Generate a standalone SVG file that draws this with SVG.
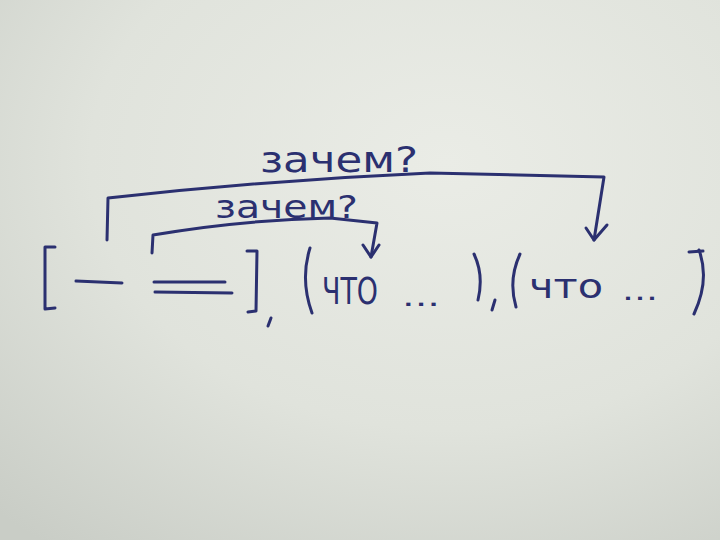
<svg xmlns="http://www.w3.org/2000/svg" width="720" height="540" viewBox="0 0 720 540">
<defs>
<radialGradient id="paper" cx="0.62" cy="0.3" r="0.9">
<stop offset="0" stop-color="#eaece6"/>
<stop offset="0.55" stop-color="#e0e3dc"/>
<stop offset="1" stop-color="#c9cdc6"/>
</radialGradient>
<style>
.ink{fill:none;stroke:#2b3070;stroke-width:3;stroke-linecap:round;stroke-linejoin:round}
.txt{fill:#2b3070;font-family:"DejaVu Sans","Liberation Sans",sans-serif}
</style>
</defs>
<rect width="720" height="540" fill="url(#paper)"/>
<g id="main-clause">
<path class="ink" d="M55,247 L45,247 L45,309 L55,308"/>
<path class="ink" d="M76,281 L122,283"/>
<path class="ink" d="M154,282 L225,282"/>
<path class="ink" d="M155,292 L232,293"/>
<path class="ink" d="M247,251 L257,251 L256,311 L248,312"/>
<path class="ink" d="M271,318 L268,326"/>
</g>
<g id="subclause-1">
<path class="ink" d="M310,248 Q300,280 312,313"/>
<text class="txt" x="322" y="304" font-size="38" textLength="56" lengthAdjust="spacingAndGlyphs">ЧТО</text>
<text class="txt" x="402" y="306" font-size="26" textLength="38" lengthAdjust="spacingAndGlyphs">...</text>
<path class="ink" d="M474,254 Q484,275 478,300"/>
<path class="ink" d="M495,300 L492,310"/>
</g>
<g id="subclause-2">
<path class="ink" d="M520,254 Q508,280 516,307"/>
<text class="txt" x="529" y="298" font-size="34" textLength="74" lengthAdjust="spacingAndGlyphs">что</text>
<text class="txt" x="622" y="300" font-size="26" textLength="36" lengthAdjust="spacingAndGlyphs">...</text>
<path class="ink" d="M699,250 Q710,280 694,314"/>
<path class="ink" d="M689,252 L703,251"/>
</g>
<g id="connectors">
<path class="ink" d="M107,240 L108,198 Q270,180 430,173 L604,177 L594,240"/>
<path class="ink" d="M586,228 L594,240 L607,225"/>
<text class="txt" x="260" y="172" font-size="36" textLength="158" lengthAdjust="spacingAndGlyphs">зачем?</text>
<path class="ink" d="M152,253 L153,235 Q240,220 330,218 L377,223 L371,257"/>
<path class="ink" d="M363,245 L371,257 L379,245"/>
<text class="txt" x="215" y="218" font-size="32" textLength="143" lengthAdjust="spacingAndGlyphs">зачем?</text>
</g>
</svg>
